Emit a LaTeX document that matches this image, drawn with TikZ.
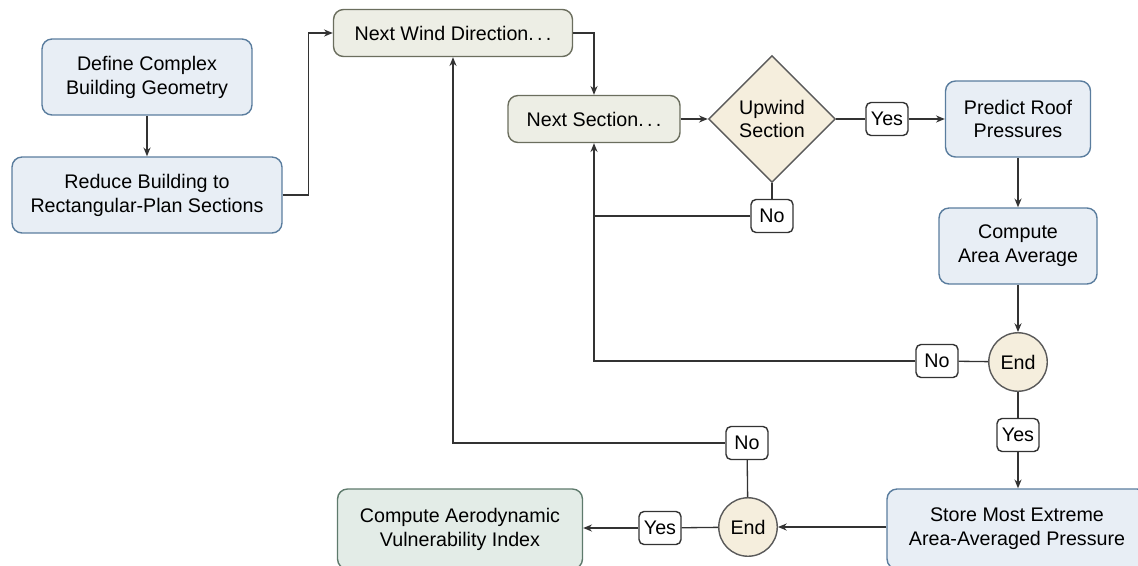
\documentclass[tikz,border=0pt]{standalone}
\usepackage{fontspec}
\setmainfont{Liberation Sans}
\usepackage{tikz}
\usetikzlibrary{positioning, arrows.meta, calc, shapes.geometric}
\definecolor{bluefill}{HTML}{E8EEF5}
\definecolor{blueline}{HTML}{5A7D9E}
\definecolor{greyfill}{HTML}{EDEEE5}
\definecolor{greyline}{HTML}{6B6E5E}
\definecolor{beigefill}{HTML}{F5EEDD}
\definecolor{beigeline}{HTML}{5A5A5A}
\definecolor{greenfill}{HTML}{E3ECE7}
\definecolor{greenline}{HTML}{5E7A6C}
\definecolor{wire}{HTML}{333333}
\tikzset{
    process/.style={
        rectangle,
        rounded corners=0.2cm,
        draw=blueline,
        fill=bluefill,
        line width=0.8pt,
        align=center,
        minimum height=1.52cm,
        font=\fontsize{11.2}{13.6}\selectfont
    },
    loopbox/.style={
        process,
        draw=greyline,
        fill=greyfill,
        minimum height=0.94cm
    },
    finalbox/.style={
        process,
        draw=greenline,
        fill=greenfill
    },
    decision/.style={
        diamond,
        draw=beigeline,
        fill=beigefill,
        line width=0.8pt,
        align=center,
        inner sep=0pt,
        minimum width=2.54cm,
        minimum height=2.54cm,
        font=\fontsize{11.2}{13.6}\selectfont
    },
    stopnode/.style={
        circle,
        draw=beigeline,
        fill=beigefill,
        line width=0.8pt,
        inner sep=0pt,
        minimum size=1.17cm,
        font=\fontsize{11.2}{13.6}\selectfont
    },
    answer/.style={
        rectangle,
        rounded corners=0.1cm,
        draw=wire,
        fill=white,
        line width=0.8pt,
        minimum width=0.84cm,
        minimum height=0.66cm,
        inner sep=1pt,
        font=\fontsize{11.2}{13.6}\selectfont
    },
    link/.style={
        draw=wire,
        line width=0.75pt
    },
    flow/.style={
        link,
        -{Stealth[length=5pt,width=4pt]}
    }
}

\begin{document}
\begin{tikzpicture}[x=0.02cm, y=-0.02cm]

\useasboundingbox (0,0) rectangle (1138,565);

%---------------- Setup ----------------

\node[process, minimum width=4.2cm] (define) at (147,77) {Define Complex\\Building Geometry};
\node[process, minimum width=5.4cm] (reduce) at (147,195) {Reduce Building to\\Rectangular-Plan Sections};

\draw[flow] (define) -- (reduce);

%---------------- Wind direction loop ----------------

\node[loopbox, minimum width=4.78cm] (wind) at (453,33) {Next Wind Direction.\,.\,.};
\node[loopbox, minimum width=3.44cm] (section) at (594,119) {Next Section.\,.\,.};
\node[decision] (upwind) at (772,119) {Upwind\\Section};
\node[answer] (yes1) at (887,119) {Yes};
\node[answer] (no1) at (772,216) {No};

\draw[flow] (reduce.east) -- ++(26,0) |- (wind.west);
\draw[flow] (wind.east) -| (section.north);
\draw[flow] (section) -- (upwind);
\draw[link] (upwind) -- (yes1);
\draw[link] (upwind) -- (no1);
\draw[flow] (no1) -| (section.south);

%---------------- Section processing ----------------

\node[process, minimum width=2.9cm] (roof) at (1018,119) {Predict Roof\\Pressures};
\node[process, minimum width=3.16cm] (area) at (1018,246) {Compute\\Area Average};
\node[stopnode] (end1) at (1018,362) {End};
\node[answer] (no2) at (937,361) {No};
\node[answer] (yes2) at (1018,435) {Yes};

\coordinate (join) at (section.south |- no1);

\draw[flow] (yes1) -- (roof);
\draw[flow] (roof) -- (area);
\draw[flow] (area) -- (end1);
\draw[link] (end1) -- (no2);
\draw[link] (no2) -| (join);
\draw[link] (end1) -- (yes2);

%---------------- Results ----------------

\node[process, minimum width=5.2cm, minimum height=1.6cm] (store) at (1017,529) {Store Most Extreme\\Area-Averaged Pressure};
\node[stopnode] (end2) at (748,527) {End};
\node[answer] (no3) at (747,443) {No};
\node[answer] (yes3) at (660,528) {Yes};
\node[finalbox, minimum width=4.9cm, minimum height=1.6cm] (aero) at (460,529) {Compute Aerodynamic\\Vulnerability Index};

\draw[flow] (yes2) -- (yes2 |- store.north);
\draw[flow] (store.west |- end2) -- (end2);
\draw[link] (end2) -- (no3);
\draw[flow] (no3) -| (wind.south);
\draw[link] (end2) -- (yes3);
\draw[flow] (yes3) -- (aero.east |- yes3);

\end{tikzpicture}
\end{document}
